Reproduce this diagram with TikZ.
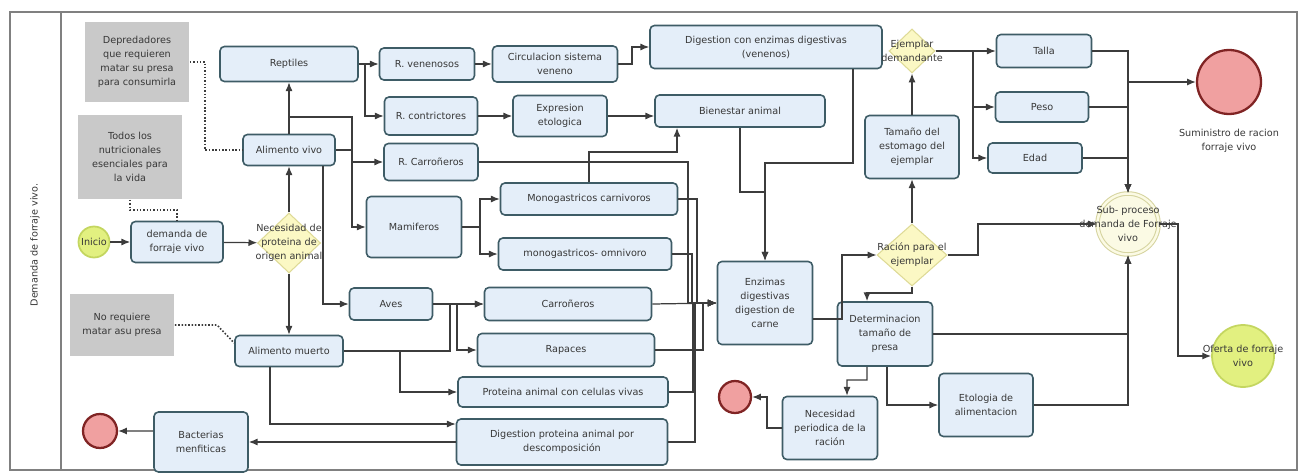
\documentclass[tikz,border=0pt]{standalone}
\usepackage{fontspec}
\setmainfont{DejaVu Sans}
\usetikzlibrary{arrows.meta,shapes.geometric}

\definecolor{borde}{RGB}{62,92,102}
\definecolor{relleno}{RGB}{228,238,249}
\definecolor{gris}{RGB}{201,201,201}
\definecolor{linea}{RGB}{60,60,60}
\definecolor{amarillo}{RGB}{251,248,196}
\definecolor{amarilloborde}{RGB}{222,218,150}
\definecolor{verde}{RGB}{226,240,128}
\definecolor{verdeborde}{RGB}{196,214,96}
\definecolor{rosa}{RGB}{240,160,160}
\definecolor{rojoborde}{RGB}{128,36,36}
\definecolor{crema}{RGB}{251,250,228}
\definecolor{cremaborde}{RGB}{214,212,160}
\definecolor{texto}{RGB}{55,55,55}

\begin{document}
\begin{tikzpicture}[x=0.02cm,y=-0.02cm,font=\fontsize{5.5}{8}\selectfont,text=texto]
	\tikzstyle{tarea}=[draw=borde, fill=relleno, rounded corners=2.5pt, line width=0.9pt, align=center, inner sep=1pt]
	\tikzstyle{nota}=[fill=gris, align=center, inner sep=1pt]
	\tikzstyle{compuerta}=[diamond, draw=amarilloborde, fill=amarillo, inner sep=0pt, line width=0.6pt]
	\tikzstyle{evinicio}=[circle, draw=verdeborde, fill=verde, line width=1pt, inner sep=0pt]
	\tikzstyle{evfin}=[circle, draw=rojoborde, fill=rosa, line width=1.3pt, inner sep=0pt]
	\tikzstyle{flecha}=[draw=linea, line width=0.7pt, -{Latex[length=5pt,width=4pt]}]
	\tikzstyle{asoc}=[draw=linea, line width=0.9pt, densely dotted]
	\useasboundingbox (0,0) rectangle (1301,473);

	% carril
	\draw[gray, line width=1pt] (10,12) rectangle (1297,470);
	\draw[gray, line width=1pt] (61,12) -- (61,470);
	\node[rotate=90] (carril) at (35,245) {Demanda de forraje vivo.};

	% notas
	\node[nota, minimum width=2.1cm, minimum height=1.6cm] (depred) at (137,62) {Depredadores\\que requieren\\matar su presa\\para consumirla};
	\node[nota, minimum width=2.1cm, minimum height=1.7cm] (todos) at (130,157) {Todos los\\nutricionales\\esenciales para\\la vida};
	\node[nota, minimum width=2.1cm, minimum height=1.26cm] (noreq) at (122,325) {No requiere\\matar asu presa};

	% inicio
	\node[evinicio, minimum size=0.62cm] (inicio) at (94,242) {Inicio};
	\node[tarea, minimum width=1.84cm, minimum height=0.82cm] (demanda) at (177,242) {demanda de\\forraje vivo};
	\node[compuerta, minimum width=1.26cm, minimum height=1.2cm,
		label={[align=center]center:Necesidad de\\proteina de\\origen animal}] (necesidad) at (289,243) {};
	\node[tarea, minimum width=1.84cm, minimum height=0.62cm] (vivo) at (289,150) {Alimento vivo};
	\node[tarea, minimum width=2.16cm, minimum height=0.62cm] (muerto) at (289,351) {Alimento muerto};
	\node[tarea, minimum width=1.88cm, minimum height=1.2cm] (bact) at (201,442) {Bacterias\\menfiticas};
	\node[evfin, minimum size=0.68cm] (fin1) at (100,431) {};

	% alimento vivo
	\node[tarea, minimum width=2.76cm, minimum height=0.7cm] (reptiles) at (289,64) {Reptiles};
	\node[tarea, minimum width=1.9cm, minimum height=0.64cm] (rven) at (427,64) {R. venenosos};
	\node[tarea, minimum width=2.5cm, minimum height=0.72cm] (circ) at (555,64) {Circulacion sistema\\veneno};
	\node[tarea, minimum width=4.64cm, minimum height=0.86cm] (digven) at (766,47) {Digestion con enzimas digestivas\\(venenos)};
	\node[tarea, minimum width=1.86cm, minimum height=0.76cm] (rcon) at (431,116) {R. contrictores};
	\node[tarea, minimum width=1.88cm, minimum height=0.82cm] (expr) at (560,116) {Expresion\\etologica};
	\node[tarea, minimum width=3.4cm, minimum height=0.64cm] (bien) at (740,111) {Bienestar animal};
	\node[tarea, minimum width=1.88cm, minimum height=0.74cm] (rcarr) at (431,162) {R. Carroñeros};
	\node[tarea, minimum width=1.9cm, minimum height=1.22cm] (mamif) at (414,227) {Mamiferos};
	\node[tarea, minimum width=3.54cm, minimum height=0.64cm] (mcarn) at (589,199) {Monogastricos carnivoros};
	\node[tarea, minimum width=3.46cm, minimum height=0.64cm] (momn) at (585,254) {monogastricos- omnivoro};
	\node[tarea, minimum width=1.66cm, minimum height=0.64cm] (aves) at (391,304) {Aves};

	% alimento muerto
	\node[tarea, minimum width=3.34cm, minimum height=0.66cm] (carr) at (568,304) {Carroñeros};
	\node[tarea, minimum width=3.54cm, minimum height=0.66cm] (rap) at (566,350) {Rapaces};
	\node[tarea, minimum width=4.2cm, minimum height=0.6cm] (prot) at (563,392) {Proteina animal con celulas vivas};
	\node[tarea, minimum width=4.22cm, minimum height=0.92cm] (digprot) at (562,442) {Digestion proteina animal por\\descomposición};

	% racion
	\node[tarea, minimum width=1.9cm, minimum height=1.66cm] (enz) at (765,303) {Enzimas\\digestivas\\digestion de\\carne};
	\node[compuerta, minimum width=1.4cm, minimum height=1.24cm,
		label={[align=center]center:Ración para el\\ejemplar}] (racion) at (912,255) {};
	\node[tarea, minimum width=1.9cm, minimum height=1.28cm] (determ) at (885,334) {Determinacion\\tamaño de\\presa};
	\node[tarea, minimum width=1.9cm, minimum height=1.26cm] (necper) at (830,428) {Necesidad\\periodica de la\\ración};
	\node[evfin, minimum size=0.64cm] (fin2) at (735,397) {};
	\node[tarea, minimum width=1.88cm, minimum height=1.26cm] (etol) at (986,405) {Etologia de\\alimentacion};
	\node[tarea, minimum width=1.88cm, minimum height=1.26cm] (estom) at (912,147) {Tamaño del\\estomago del\\ejemplar};
	\node[compuerta, minimum width=0.92cm, minimum height=0.88cm,
		label={[align=center]center:Ejemplar\\demandante}] (ejem) at (912,51) {};
	\node[tarea, minimum width=1.9cm, minimum height=0.66cm] (talla) at (1044,51) {Talla};
	\node[tarea, minimum width=1.86cm, minimum height=0.6cm] (peso) at (1042,107) {Peso};
	\node[tarea, minimum width=1.88cm, minimum height=0.6cm] (edad) at (1035,158) {Edad};
	\node[evfin, minimum size=1.28cm] (sumi) at (1229,82) {};
	\node[align=center] (sumitxt) at (1229,141) {Suministro de racion\\forraje vivo};
	\node[circle, draw=cremaborde, fill=crema, double=crema, double distance=1.4pt, line width=0.6pt, minimum size=1.22cm,
		label={[align=center]center:Sub- proceso\\demanda de Forraje\\vivo}] (sub) at (1128,224) {};
	\node[evinicio, minimum size=1.24cm, label={[align=center]center:Oferta de forraje\\vivo}] (oferta) at (1243,356) {};

	% asociaciones
	\draw[asoc] (depred.east) -- (205,62) |- (vivo.west);
	\draw[asoc] (todos.south) -- (130,210) -| (demanda.north);
	\draw[asoc] (noreq.east) -- (217,325) -- ([yshift=0.16cm]muerto.west);

	% flujo principal
	\draw[flecha] (inicio) -- (demanda);
	\draw[flecha] (demanda) -- (necesidad);
	\draw[flecha] (necesidad) -- (vivo);
	\draw[flecha] (vivo) -- (reptiles);
	\draw[flecha] (necesidad) -- (muerto);
	\draw[flecha] (reptiles.east) -- (rven.west);
	\draw[flecha] (reptiles.east) -- (365,64) |- (rcon.west);
	\draw[flecha] (vivo.north) |- (352,117) |- (mamif.west);
	\draw[flecha] (vivo.east) -- (352,150) |- (rcarr.west);
	\draw[flecha] ([xshift=0.68cm]vivo.south) |- (aves.west);
	\draw[flecha] (rven) -- (circ);
	\draw[flecha] (circ.east) -- (632,64) |- (digven.west);
	\draw[flecha] (rcon.east) -- (expr.west);
	\draw[flecha] (expr.east) -- (expr.east -| bien.west);
	\draw[flecha] (mcarn.north) |- (677,152) -- (677,0 |- bien.south);
	\draw[flecha] (mamif.east) -- (480,227) |- (mcarn.west);
	\draw[flecha] (mamif.east) -- (480,227) |- (momn.west);
	\draw[flecha] (aves.east) -- (carr.west);
	\draw[flecha] (aves.east) -- (457,304) |- (rap.west);
	\draw[flecha] (muerto.east) -| (450,304) -- (carr.west);
	\draw[flecha] (muerto.east) -| (400,392) -- (prot.west);
	\draw[flecha] ([xshift=-0.38cm]muerto.south) |- ([yshift=0.36cm]digprot.west);
	\draw[flecha] (digprot.west) -- (bact.east);
	\draw[flecha] ([yshift=0.22cm]bact.west) -- (fin1.east);

	% hacia enzimas
	\draw[flecha] (rcarr.east) -| (688,303) -- (enz.west);
	\draw[flecha] (mcarn.east) -| (697,303) -- (enz.west);
	\draw[flecha] (momn.east) -| (692,303) -- (enz.west);
	\draw[flecha] (carr.east) -- (enz.west);
	\draw[flecha] (rap.east) -| (703,303) -- (enz.west);
	\draw[flecha] (prot.east) -| (693,303) -- (enz.west);
	\draw[flecha] (digprot.east) -| (695,303) -- (enz.west);
	\draw[flecha] ([xshift=1.74cm]digven.south) |- (765,163) -- (enz.north);
	\draw[flecha] (bien.south) |- (765,192) -- (enz.north);

	% racion y ejemplar
	\draw[flecha] ([yshift=-0.32cm]enz.east) -| (842,255) -- (racion.west);
	\draw[flecha] (racion.south) -- (912,293) -| ([xshift=-0.36cm]determ.north);
	\draw[flecha] (racion.north) -- (estom.south);
	\draw[flecha] (estom.north) -- (ejem.south);
	\draw[flecha] (ejem.east) -- (talla.west);
	\draw[flecha] (ejem.east) -- (973,51) |- (peso.west);
	\draw[flecha] (ejem.east) -- (973,51) |- (edad.west);
	\draw[flecha] (racion.east) -- (978,255) |- (sub.west);
	\draw[flecha] (talla.east) -| (sub.north);
	\draw[flecha] (peso.east) -| (sub.north);
	\draw[flecha] (edad.east) -| (sub.north);
	\draw[flecha] (talla.east) -| (1128,82) -- (sumi.west);
	\draw[flecha] (determ.east) -| (sub.south);
	\draw[flecha] (etol.east) -| (sub.south);
	\draw[flecha] (sub.east) -- (1178,224) |- (oferta.west);
	\draw[flecha] ([xshift=-0.36cm]determ.south) -- (867,380) -| ([xshift=0.34cm]necper.north);
	\draw[flecha] ([xshift=0.04cm]determ.south) |- (etol.west);
	\draw[flecha] (necper.west) -- (767,428) |- (fin2.east);

\end{tikzpicture}
\end{document}
